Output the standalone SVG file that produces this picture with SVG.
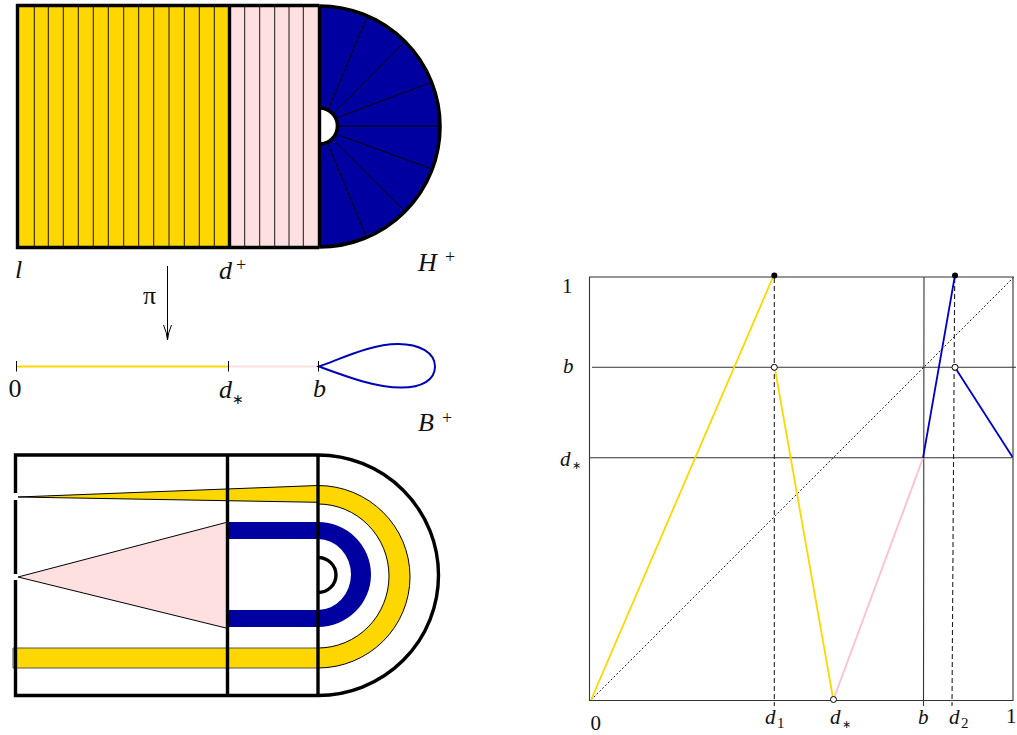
<svg xmlns="http://www.w3.org/2000/svg" width="1017" height="735" viewBox="0 0 1017 735">
<style>
text{font-family:"Liberation Serif","Times New Roman",serif;fill:#111;font-size:26px}
.i{font-style:italic}
.s{font-size:18px}
.a{font-size:14px}
.g{font-size:21px}
.gs{font-size:15px}
.ga{font-size:11px}
.thick{fill:none;stroke:#000;stroke-width:3.4}
.thin{fill:none;stroke:#000;stroke-width:1}
.blue{fill:#0000a0}
.yel{fill:#ffd700}
.pink{fill:#ffe0e0}
.ax{stroke:#333;stroke-width:1.1;fill:none}
.dash{stroke:#222;stroke-width:1.1;stroke-dasharray:5 3;fill:none}
</style>
<defs>
<marker id="open" markerWidth="16" markerHeight="10" refX="15" refY="5" orient="auto" markerUnits="userSpaceOnUse" viewBox="0 0 16 10"><path d="M0 1Q8 4.500 15 5Q8 5.500 0 9" fill="none" stroke="#000" stroke-width="1"/></marker>
</defs>
<g id="top-cylinder">
<rect class="yel" x="17.500" y="5.500" width="212" height="242"/>
<rect class="pink" x="229.500" y="5.500" width="90" height="242"/>
<path class="blue" d="M319.500 6A120.500 120.500 0 0 1 319.500 247Z"/>
<path fill="#fff" d="M319.500 108A18 18 0 0 1 319.500 144Z"/>
<path class="thin" style="stroke-width:.9" d="M34.300 6V247M48.300 6V247M63.300 6V247M78.300 6V247M93.300 6V247M108.300 6V247M123.700 6V247M138.700 6V247M153.700 6V247M169 6V247M184.300 6V247M199.300 6V247M214.300 6V247M244.700 6V247M259.700 6V247M274.700 6V247M289 6V247M303.300 6V247"/>
<path class="thin" d="M328.300 109.300L366.300 18.300M334.300 112.700L403.300 43.300M338.300 117.300L428.300 83.300M340 126H437.500M338.300 135L430 168.300M334.300 140.700L403.300 210M328.300 145L366.300 236.700"/>
<path class="thick" d="M229.500 5.500H17.500V247.500H229.500M229.500 5.500V247.500M229.500 5.500H319.500M229.500 247.500H319.500M319.500 5.500V247.500"/>
<path class="thick" style="stroke-width:3.600" d="M319.500 6A1 1 0 0 1 319.500 247"/>
<path class="thick" style="stroke-width:3.600" d="M319.500 108A1 1 0 0 1 319.500 144"/>
<text class="i" x="15" y="278">l</text>
<text class="i" x="219" y="279">d</text><text class="s" x="236" y="271">+</text>
<text class="i" x="418" y="271">H</text><text class="s" x="445" y="263">+</text>
</g>
<g id="projection">
<path class="thin" d="M167.500 266V340" marker-end="url(#open)"/>
<text x="143" y="304">π</text>
</g>
<g id="base">
<path d="M17 366.500H229" stroke="#ffd700" stroke-width="2" fill="none"/>
<path d="M229 366.500H319" stroke="#ffe0e0" stroke-width="2" fill="none"/>
<path d="M319 366.500C345 357 372 344 398 344C420 344 435 353 435 366.500C435 380 422 387.500 401 387.500C375 387.500 345 376 319 366.500Z" fill="none" stroke="#0000b4" stroke-width="2"/>
<path class="thin" d="M16.500 361V371.500M228.500 361V371.500M318.500 361V371.500"/>
<text x="8.500" y="397">0</text>
<text class="i" x="219" y="398">d</text><text class="a" x="232" y="404">∗</text>
<text class="i" x="313" y="397">b</text>
<text class="i" x="418" y="431">B</text><text class="s" x="442" y="424">+</text>
</g>
<g id="bottom-cylinder">
<path class="yel" d="M18 497L318 485.500A92 91.250 0 0 1 318 668H13V648H318A71 72 0 0 0 318 504L318 502.300Z"/>
<path class="thin" d="M18 497L318 485.500A92 91.250 0 0 1 318 668M318 648A71 72 0 0 0 318 504M18 497L318 502.300"/>
<path d="M13 668V648H318M13 668H318" fill="none" stroke="#555" stroke-width="1"/>
<path class="pink" d="M18 577L226 522.500V628Z"/>
<path class="thin" d="M18 577L226 522.500M18 577L226 628"/>
<path class="blue" d="M227 522H318A53 52.500 0 0 1 318 627H227V610H318A33 35.500 0 0 0 318 539H227Z"/>
<path class="thick" d="M227.500 455H15.500V695.500H227.500M227.500 455V695.500M227.500 455H318M227.500 695.500H318M318 455V695.500"/>
<path class="thick" d="M318 455A120.500 120.250 0 0 1 318 695.500"/>
<path class="thick" d="M318 557.500A18 17.500 0 0 1 318 592.500"/>
<path d="M15.500 493V500M15.500 574V580" stroke="#fff" stroke-width="5" fill="none"/>
</g>
<g id="graph">
<path class="ax" d="M589.500 277H1013V700.500H589.500Z"/>
<path class="ax" d="M592 367.300H1016M590 457.700H1013M924 277L923.500 706"/>
<path class="dash" d="M774.300 278V706M954.700 278L952 706"/>
<path d="M591 700L1015 276" stroke="#222" stroke-width="1" stroke-dasharray="2 2" fill="none"/>
<path d="M591 700L773 277M775 369L833 698" stroke="#ffd700" stroke-width="1.800" fill="none"/>
<path d="M834 698L923 458" stroke="#ffc0cb" stroke-width="1.800" fill="none"/>
<path d="M923 458L954.500 278M956 369L1012.500 457" stroke="#0000cd" stroke-width="1.800" fill="none"/>
<circle cx="774.300" cy="275.500" r="3"/>
<circle cx="955" cy="275.500" r="3"/>
<circle cx="774.300" cy="367.300" r="3" fill="#fff" stroke="#000"/>
<circle cx="955" cy="367.300" r="3" fill="#fff" stroke="#000"/>
<circle cx="833.500" cy="699.500" r="3" fill="#fff" stroke="#000"/>
<text class="g" x="562" y="293">1</text>
<text class="g i" x="563" y="373">b</text>
<text class="g i" x="560" y="466">d</text><text class="ga" x="572" y="469">∗</text>
<text class="g" x="590.500" y="730">0</text>
<text class="g i" x="765" y="724">d</text><text class="gs" x="777" y="728">1</text>
<text class="g i" x="830" y="724">d</text><text class="ga" x="842" y="728">∗</text>
<text class="g i" x="918" y="724">b</text>
<text class="g i" x="949" y="724">d</text><text class="gs" x="961" y="728">2</text>
<text class="g" x="1006" y="723">1</text>
</g>
</svg>
